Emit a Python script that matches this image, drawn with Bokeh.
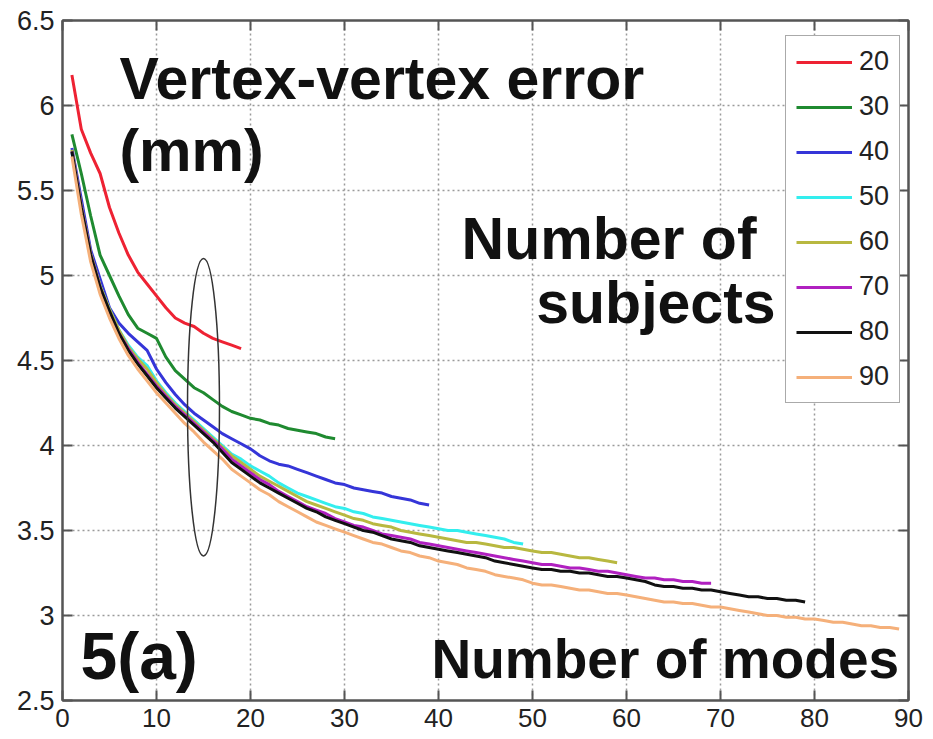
from bokeh.plotting import figure
from bokeh.models import Range1d, FixedTicker, LinearAxis, Label
from bokeh.embed import file_html
from bokeh.resources import INLINE

# ---------------- data ----------------
x_ticks = [0, 10, 20, 30, 40, 50, 60, 70, 80, 90]
x_tick_labels = ["0", "10", "20", "30", "40", "50", "60", "70", "80", "90"]
y_ticks = [2.5, 3, 3.5, 4, 4.5, 5, 5.5, 6, 6.5]
y_tick_labels = ["2.5", "3", "3.5", "4", "4.5", "5", "5.5", "6", "6.5"]

subjects = ["20", "30", "40", "50", "60", "70", "80", "90"]

err_20 = [6.18, 5.86, 5.72, 5.60, 5.40, 5.25, 5.12, 5.02, 4.95, 4.88,
          4.81, 4.75, 4.72, 4.70, 4.66, 4.63, 4.61, 4.59, 4.57]
err_30 = [5.83, 5.60, 5.35, 5.12, 5.00, 4.88, 4.77, 4.69, 4.66, 4.63,
          4.52, 4.44, 4.39, 4.34, 4.31, 4.27, 4.23, 4.20, 4.18, 4.16,
          4.15, 4.13, 4.12, 4.10, 4.09, 4.08, 4.07, 4.05, 4.04]
err_40 = [5.75, 5.45, 5.15, 4.98, 4.81, 4.72, 4.66, 4.61, 4.56, 4.45,
          4.37, 4.30, 4.24, 4.19, 4.15, 4.11, 4.07, 4.04, 4.01, 3.98,
          3.94, 3.91, 3.89, 3.88, 3.86, 3.84, 3.82, 3.80, 3.78, 3.77,
          3.75, 3.74, 3.73, 3.72, 3.70, 3.69, 3.68, 3.66, 3.65]
err_50 = [5.72, 5.40, 5.12, 4.94, 4.80, 4.68, 4.59, 4.52, 4.47, 4.38,
          4.31, 4.25, 4.20, 4.15, 4.10, 4.05, 4.00, 3.95, 3.92, 3.88,
          3.85, 3.82, 3.78, 3.75, 3.72, 3.70, 3.68, 3.66, 3.64, 3.63,
          3.61, 3.60, 3.58, 3.57, 3.56, 3.55, 3.54, 3.53, 3.52, 3.51,
          3.50, 3.50, 3.49, 3.48, 3.47, 3.46, 3.45, 3.43, 3.42]
err_60 = [5.74, 5.41, 5.13, 4.94, 4.80, 4.68, 4.58, 4.51, 4.45, 4.37,
          4.30, 4.24, 4.19, 4.14, 4.09, 4.04, 3.99, 3.94, 3.90, 3.86,
          3.82, 3.79, 3.76, 3.73, 3.70, 3.67, 3.65, 3.63, 3.61, 3.59,
          3.57, 3.56, 3.54, 3.53, 3.52, 3.50, 3.49, 3.48, 3.47, 3.46,
          3.45, 3.44, 3.43, 3.43, 3.42, 3.41, 3.40, 3.40, 3.39, 3.38,
          3.37, 3.37, 3.36, 3.35, 3.34, 3.34, 3.33, 3.32, 3.31]
err_70 = [5.73, 5.40, 5.12, 4.93, 4.78, 4.66, 4.57, 4.49, 4.42, 4.35,
          4.29, 4.23, 4.18, 4.13, 4.08, 4.03, 3.98, 3.92, 3.88, 3.84,
          3.80, 3.77, 3.73, 3.70, 3.67, 3.64, 3.62, 3.60, 3.57, 3.55,
          3.53, 3.52, 3.50, 3.48, 3.47, 3.46, 3.45, 3.43, 3.42, 3.41,
          3.40, 3.39, 3.38, 3.37, 3.36, 3.35, 3.34, 3.33, 3.32, 3.31,
          3.30, 3.30, 3.29, 3.28, 3.28, 3.27, 3.26, 3.26, 3.25, 3.24,
          3.23, 3.22, 3.22, 3.21, 3.21, 3.20, 3.20, 3.19, 3.19]
err_80 = [5.73, 5.40, 5.12, 4.93, 4.79, 4.66, 4.56, 4.48, 4.41, 4.34,
          4.28, 4.22, 4.17, 4.12, 4.07, 4.02, 3.96, 3.90, 3.86, 3.82,
          3.78, 3.75, 3.72, 3.69, 3.66, 3.63, 3.61, 3.58, 3.56, 3.54,
          3.52, 3.50, 3.49, 3.47, 3.45, 3.44, 3.43, 3.41, 3.40, 3.39,
          3.38, 3.37, 3.36, 3.35, 3.34, 3.32, 3.31, 3.30, 3.29, 3.28,
          3.27, 3.27, 3.26, 3.26, 3.25, 3.25, 3.24, 3.23, 3.23, 3.22,
          3.21, 3.20, 3.18, 3.17, 3.17, 3.16, 3.16, 3.15, 3.15, 3.14,
          3.13, 3.12, 3.11, 3.11, 3.10, 3.10, 3.09, 3.09, 3.08]
err_90 = [5.70, 5.36, 5.08, 4.89, 4.75, 4.63, 4.53, 4.45, 4.38, 4.31,
          4.25, 4.19, 4.13, 4.08, 4.02, 3.97, 3.92, 3.86, 3.82, 3.78,
          3.74, 3.71, 3.67, 3.64, 3.61, 3.58, 3.55, 3.53, 3.51, 3.49,
          3.47, 3.45, 3.43, 3.42, 3.40, 3.38, 3.37, 3.35, 3.34, 3.32,
          3.31, 3.30, 3.28, 3.27, 3.26, 3.24, 3.23, 3.22, 3.21, 3.19,
          3.18, 3.18, 3.17, 3.16, 3.15, 3.15, 3.14, 3.13, 3.13, 3.12,
          3.11, 3.10, 3.09, 3.08, 3.08, 3.07, 3.07, 3.06, 3.05, 3.05,
          3.04, 3.03, 3.02, 3.01, 3.00, 3.00, 2.99, 2.99, 2.98, 2.98,
          2.97, 2.96, 2.96, 2.95, 2.94, 2.94, 2.93, 2.93, 2.92]

series = [err_20, err_30, err_40, err_50, err_60, err_70, err_80, err_90]
colors = ["#ee2233", "#1f8a30", "#3535d8", "#33eeee",
          "#b8b840", "#b020c0", "#111111", "#f5b07a"]

# ellipse marking mode 15
ellipse_x = [15]
ellipse_y = [4.225]
ellipse_w = [3.4]
ellipse_h = [1.75]

FONT = "Liberation Sans"
AX = "#555555"

# ---------------- figure ----------------
p = figure(frame_width=846, frame_height=680,
           min_border_left=62, min_border_right=25,
           min_border_top=20, min_border_bottom=39,
           x_range=Range1d(0, 90), y_range=Range1d(2.5, 6.5),
           output_backend="svg", toolbar_location=None,
           background_fill_color="white", border_fill_color="white")

p.outline_line_color = AX
p.outline_line_width = 2

# grid
for g in (p.xgrid, p.ygrid):
    g.grid_line_color = "#9a9a9a"
    g.grid_line_dash = "2 3"
    g.grid_line_width = 1.5
p.xgrid.ticker = FixedTicker(ticks=x_ticks)
p.ygrid.ticker = FixedTicker(ticks=y_ticks)


def style_axis(ax):
    ax.major_tick_in = 10
    ax.major_tick_out = 0
    ax.minor_tick_line_color = None
    ax.axis_line_color = AX
    ax.axis_line_width = 2
    ax.major_tick_line_color = AX
    ax.major_tick_line_width = 2


# left axis
ya = p.yaxis[0]
ya.ticker = FixedTicker(ticks=y_ticks)
ya.major_label_overrides = {t: l for t, l in zip(y_ticks, y_tick_labels)}
ya.major_label_text_font = FONT
ya.major_label_text_font_size = "27px"
ya.major_label_text_color = "#222222"
ya.major_label_standoff = 8
style_axis(ya)

# bottom axis
xa = p.xaxis[0]
xa.ticker = FixedTicker(ticks=x_ticks)
xa.major_label_overrides = {t: l for t, l in zip(x_ticks, x_tick_labels)}
xa.major_label_text_font = FONT
xa.major_label_text_font_size = "26px"
xa.major_label_text_color = "#222222"
xa.major_label_standoff = 8
style_axis(xa)

# top and right axes (box with inward ticks, no labels)
for side, tk in (("right", y_ticks), ("above", x_ticks)):
    ax = LinearAxis(ticker=FixedTicker(ticks=tk))
    ax.major_label_text_color = None
    ax.major_label_text_font_size = "8px"
    ax.major_label_standoff = 0
    style_axis(ax)
    p.add_layout(ax, side)

# series
for name, vals, col in zip(subjects, series, colors):
    xs = list(range(1, len(vals) + 1))
    p.line(xs, vals, line_color=col, line_width=3, legend_label=name)

p.ellipse(x=ellipse_x, y=ellipse_y, width=ellipse_w, height=ellipse_h,
          fill_color=None, line_color="#333333", line_width=1.5)


# big annotation texts
def big(txt, x, y, size):
    p.add_layout(Label(x=x, y=y, text=txt, text_font=FONT,
                       text_font_style="bold", text_font_size=size,
                       text_color="#111111", text_baseline="alphabetic",
                       text_align="left"))


big("Vertex-vertex error", 6.06, 6.153, "59px")
big("(mm)", 6.06, 5.735, "59px")
big("Number of", 42.45, 5.212, "59px")
big("subjects", 50.4, 4.841, "59px")
big("Number of modes", 39.26, 2.747, "55px")
big("5(a)", 1.91, 2.759, "66px")

# legend
lg = p.legend[0]
lg.location = (723, 297)
lg.label_text_font = FONT
lg.label_text_font_size = "27px"
lg.label_text_color = "#222222"
lg.label_height = 30
lg.glyph_height = 30
lg.glyph_width = 56
lg.label_standoff = 7
lg.spacing = 14
lg.padding = 10
lg.margin = 0
lg.border_line_color = AX
lg.border_line_width = 1.5
lg.background_fill_color = "white"
lg.background_fill_alpha = 1.0

open("out.html", "w").write(file_html(p, INLINE))
